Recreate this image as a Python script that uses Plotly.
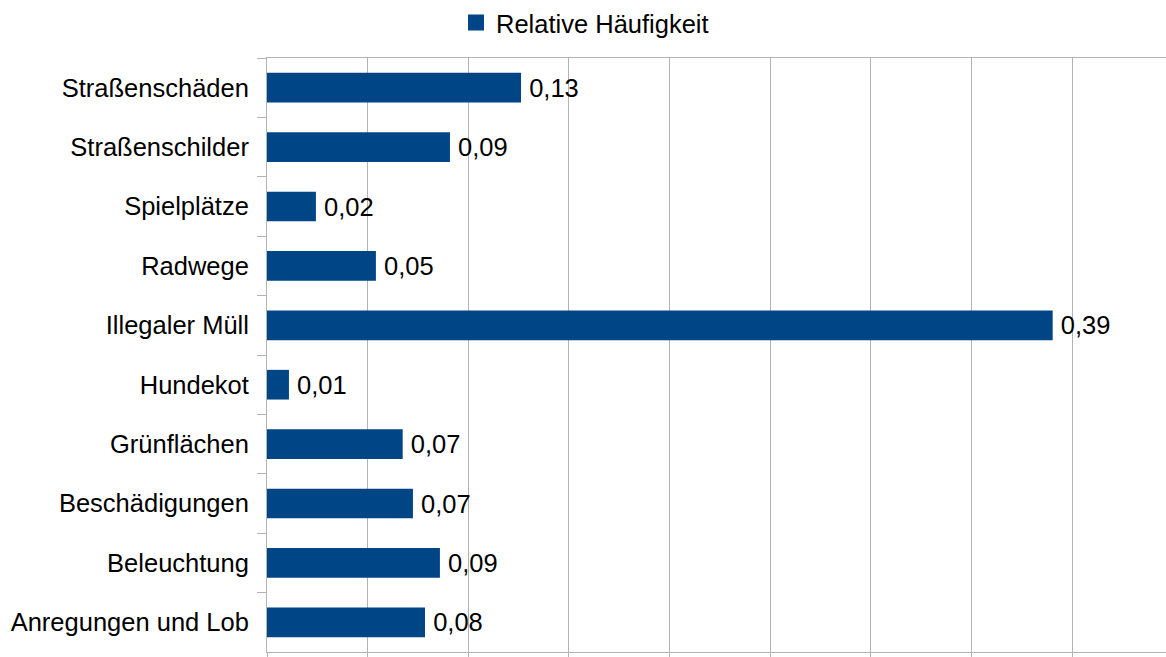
import plotly.graph_objects as go

categories = ["Straßenschäden", "Straßenschilder", "Spielplätze", "Radwege", "Illegaler Müll",
              "Hundekot", "Grünflächen", "Beschädigungen", "Beleuchtung", "Anregungen und Lob"]
values = [0.1262, 0.0909, 0.0243, 0.0541, 0.3903, 0.0109, 0.0674, 0.0725, 0.0859, 0.0785]
series_name = "Relative Häufigkeit"

FONT = "Liberation Sans, Arial, sans-serif"
GRID = "#b3b3b3"
BLUE = "#004586"
FS = 25.5

fig = go.Figure()
fig.add_trace(go.Bar(
    y=categories, x=values, orientation="h", name=series_name,
    marker=dict(color=BLUE, line=dict(width=0)),
    width=0.5,
    texttemplate="\u2009%{x:.2f}", textposition="outside",
    textfont=dict(family=FONT, size=FS, color="#000000"),
    cliponaxis=False, showlegend=False, legendgroup="s",
))
# legend entry for the series (larger square swatch, as in the reference)
fig.add_trace(go.Scatter(
    x=[None], y=[None], mode="markers", name=series_name, legendgroup="s",
    marker=dict(symbol="square", size=16, color=BLUE), showlegend=True,
))

fig.update_layout(
    width=1166, height=657,
    margin=dict(l=267, r=0, t=58, b=5),
    paper_bgcolor="white", plot_bgcolor="white",
    separators=", ",
    font=dict(family=FONT, size=FS, color="#000000"),
    showlegend=True,
    legend=dict(orientation="h", x=585 / 1166, xanchor="center", xref="container",
                y=1 - 23 / 657, yanchor="middle", yref="container",
                font=dict(size=FS, family=FONT), itemwidth=30,
                bgcolor="rgba(0,0,0,0)"),
    bargap=0.5,
)
fig.update_xaxes(range=[0, 0.4466], dtick=0.05, tick0=0, showgrid=True, gridcolor=GRID, gridwidth=1,
                 zeroline=False, showline=True, linecolor=GRID, linewidth=1, mirror=True,
                 ticks="outside", ticklen=6, tickcolor=GRID, showticklabels=False)
fig.update_yaxes(type="category", autorange="reversed", showgrid=False, zeroline=False,
                 showline=True, linecolor=GRID, linewidth=1,
                 ticks="outside", ticklen=9, tickcolor=GRID, tickson="boundaries",
                 ticklabelstandoff=12,
                 tickfont=dict(size=FS, family=FONT, color="#000000"))

fig.write_html("out.html")
